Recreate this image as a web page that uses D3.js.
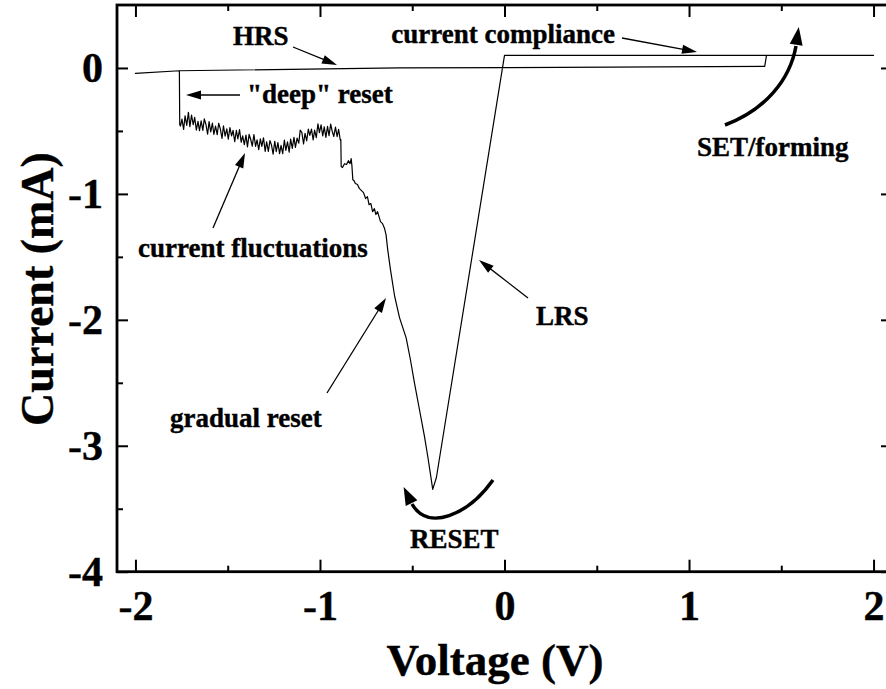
<!DOCTYPE html>
<html>
<head>
<meta charset="utf-8">
<script src="https://cdn.jsdelivr.net/npm/d3@7"></script>
<style>
  body { margin: 0; background: #fff; }
  svg { display: block; }
  text { font-family: "Liberation Serif", "Times New Roman", Times, serif; font-weight: bold; fill: #000; stroke: #000; stroke-width: 0.4px; }
</style>
</head>
<body>
<svg id="chart" width="886" height="689"></svg>
<script>
// ---- I-V sweep data (voltage in V, current in mA), in sweep order ----

// forming: 0 V -> +2 V, jump to the compliance level
const formingV = [0.000, 1.410, 1.420, 2.000];
const formingI = [0.002, 0.012, 0.100, 0.100];

// back from +2 V to 0 V at the compliance level
const returnV = [2.000, 0.000];
const returnI = [0.100, 0.100];

// low resistance state: 0 V down to the reset point
const lrsV = [0.000, -0.369];
const lrsI = [0.100, -3.252];

// reset branch: from the current minimum up to the first current drop
const resetV = [
  -0.389, -0.397, -0.416, -0.434, -0.461, -0.488, -0.510, -0.533, -0.569, -0.596,
  -0.618, -0.633, -0.642, -0.650, -0.661, -0.672, -0.680, -0.688, -0.697, -0.705,
  -0.715, -0.724, -0.734, -0.743, -0.753, -0.764, -0.775, -0.786, -0.797, -0.808,
  -0.816, -0.822, -0.827, -0.831, -0.837, -0.846, -0.856, -0.867, -0.878, -0.885,
  -0.887
];
const resetI = [
  -3.346, -3.267, -3.083, -2.924, -2.712, -2.500, -2.315, -2.143, -1.982, -1.807,
  -1.601, -1.442, -1.323, -1.275, -1.236, -1.220, -1.180, -1.141, -1.164, -1.117,
  -1.141, -1.077, -1.085, -1.021, -1.037, -0.990, -0.974, -0.958, -0.926, -0.918,
  -0.894, -0.887, -0.775, -0.720, -0.760, -0.736, -0.767, -0.760, -0.791, -0.783,
  -0.569
];

// fluctuating plateau between -0.89 V and the "deep" reset at -1.76 V
const fluctV = [
  -0.890, -0.899, -0.907, -0.916, -0.925, -0.933, -0.942, -0.951, -0.959, -0.968,
  -0.977, -0.985, -0.994, -1.003, -1.011, -1.020, -1.029, -1.037, -1.046, -1.055,
  -1.063, -1.072, -1.081, -1.089, -1.098, -1.107, -1.115, -1.124, -1.133, -1.141,
  -1.150, -1.159, -1.167, -1.176, -1.185, -1.193, -1.202, -1.211, -1.219, -1.228,
  -1.237, -1.245, -1.254, -1.263, -1.271, -1.280, -1.289, -1.297, -1.306, -1.315,
  -1.323, -1.332, -1.341, -1.349, -1.358, -1.367, -1.375, -1.384, -1.393, -1.401,
  -1.410, -1.419, -1.427, -1.436, -1.445, -1.453, -1.462, -1.471, -1.479, -1.488,
  -1.497, -1.505, -1.514, -1.523, -1.531, -1.540, -1.549, -1.557, -1.566, -1.575,
  -1.583, -1.592, -1.601, -1.609, -1.618, -1.627, -1.635, -1.644, -1.653, -1.661,
  -1.670, -1.679, -1.687, -1.696, -1.705, -1.713, -1.722, -1.731, -1.739, -1.748,
  -1.756
];
const fluctI = [
  -0.572, -0.487, -0.546, -0.469, -0.544, -0.507, -0.446, -0.538, -0.464, -0.551,
  -0.468, -0.540, -0.452, -0.514, -0.444, -0.553, -0.494, -0.571, -0.486, -0.536,
  -0.485, -0.578, -0.519, -0.604, -0.513, -0.494, -0.597, -0.557, -0.631, -0.551,
  -0.638, -0.565, -0.668, -0.586, -0.655, -0.572, -0.681, -0.614, -0.681, -0.593,
  -0.664, -0.582, -0.684, -0.611, -0.577, -0.662, -0.586, -0.662, -0.554, -0.622,
  -0.563, -0.648, -0.571, -0.622, -0.529, -0.620, -0.570, -0.527, -0.626, -0.533,
  -0.608, -0.539, -0.590, -0.489, -0.564, -0.495, -0.586, -0.495, -0.540, -0.473,
  -0.566, -0.483, -0.542, -0.459, -0.560, -0.484, -0.439, -0.530, -0.461, -0.528,
  -0.438, -0.508, -0.426, -0.526, -0.449, -0.404, -0.495, -0.420, -0.498, -0.424,
  -0.493, -0.392, -0.451, -0.374, -0.466, -0.353, -0.457, -0.380, -0.488, -0.406,
  -0.461
];

// "deep" reset and the rest of the sweep to -2 V
const deepV = [-1.760, -1.762, -2.000];
const deepI = [-0.450, -0.022, -0.043];

// high resistance state: -2 V back to 0 V
const hrsV = [-2.000, -1.762, -0.570, 0.000];
const hrsI = [-0.043, -0.022, 0.000, 0.002];

// axis ticks
const xTicks = [-2, -1, 0, 1, 2];
const xMinorTicks = [-1.5, -0.5, 0.5, 1.5];
const yTicks = [-4, -3, -2, -1, 0];
const yMinorTicks = [-3.5, -2.5, -1.5, -0.5];

// annotation texts
const labelHRS = "HRS";
const labelCompliance = "current compliance";
const labelDeep = "\"deep\" reset";
const labelFluct = "current fluctuations";
const labelGradual = "gradual reset";
const labelLRS = "LRS";
const labelReset = "RESET";
const labelSet = "SET/forming";

// ---- drawing ----
const svg = d3.select("#chart");

const x = d3.scaleLinear().domain([-2.1, 2.1]).range([117, 892]);
const y = d3.scaleLinear().domain([-4, 0.5]).range([571.7, 5]);

const fmt = d => String(d);

function styleAxis(g, fontSize) {
  g.select(".domain").remove();
  g.selectAll(".tick line").attr("stroke", "#000").attr("stroke-width", 2);
  g.selectAll(".tick text")
    .style("font-family", "\"Liberation Serif\", \"Times New Roman\", serif")
    .style("font-weight", "bold")
    .style("font-size", fontSize + "px")
    .attr("fill", "#000");
}

// bottom axis
svg.append("g").attr("transform", `translate(0,${y(-4)})`)
  .call(d3.axisBottom(x).tickValues(xTicks).tickFormat(fmt).tickSizeInner(-12).tickSizeOuter(0).tickPadding(18))
  .call(g => styleAxis(g, 42));
svg.append("g").attr("transform", `translate(0,${y(-4)})`)
  .call(d3.axisBottom(x).tickValues(xMinorTicks).tickFormat("").tickSizeInner(-6).tickSizeOuter(0))
  .call(g => styleAxis(g, 42));

// top axis
svg.append("g").attr("transform", `translate(0,${y(0.5)})`)
  .call(d3.axisTop(x).tickValues(xTicks).tickFormat("").tickSizeInner(-12).tickSizeOuter(0))
  .call(g => styleAxis(g, 42));
svg.append("g").attr("transform", `translate(0,${y(0.5)})`)
  .call(d3.axisTop(x).tickValues(xMinorTicks).tickFormat("").tickSizeInner(-6).tickSizeOuter(0))
  .call(g => styleAxis(g, 42));

// left axis
svg.append("g").attr("transform", `translate(${x(-2.1)},0)`)
  .call(d3.axisLeft(y).tickValues(yTicks).tickFormat(fmt).tickSizeInner(-11).tickSizeOuter(0).tickPadding(14))
  .call(g => styleAxis(g, 42));
svg.append("g").attr("transform", `translate(${x(-2.1)},0)`)
  .call(d3.axisLeft(y).tickValues(yMinorTicks).tickFormat("").tickSizeInner(-6).tickSizeOuter(0))
  .call(g => styleAxis(g, 42));

// right axis
svg.append("g").attr("transform", `translate(${x(2.1)},0)`)
  .call(d3.axisRight(y).tickValues(yTicks).tickFormat("").tickSizeInner(-11).tickSizeOuter(0))
  .call(g => styleAxis(g, 42));
svg.append("g").attr("transform", `translate(${x(2.1)},0)`)
  .call(d3.axisRight(y).tickValues(yMinorTicks).tickFormat("").tickSizeInner(-6).tickSizeOuter(0))
  .call(g => styleAxis(g, 42));

// frame
svg.append("rect")
  .attr("x", x(-2.1)).attr("y", y(0.5))
  .attr("width", x(2.1) - x(-2.1)).attr("height", y(-4) - y(0.5))
  .attr("fill", "none").attr("stroke", "#000").attr("stroke-width", 2.8);

// the I-V trace
const zip = (vs, is) => vs.map((v, k) => [v, is[k]]);
const trace = [].concat(
  zip(formingV, formingI),
  zip(returnV, returnI),
  zip(lrsV, lrsI),
  zip(resetV, resetI),
  zip(fluctV, fluctI),
  zip(deepV, deepI),
  zip(hrsV, hrsI)
);
svg.append("path")
  .datum(trace)
  .attr("fill", "none")
  .attr("stroke", "#000")
  .attr("stroke-width", 1.2)
  .attr("stroke-linejoin", "round")
  .attr("d", d3.line().x(d => x(d[0])).y(d => y(d[1])));

// axis titles
svg.append("text")
  .attr("x", 495).attr("y", 675)
  .attr("text-anchor", "middle")
  .style("font-size", "45px")
  .text("Voltage (V)");
svg.append("text")
  .attr("transform", "translate(53,289) rotate(-90)")
  .attr("text-anchor", "middle")
  .style("font-size", "46px")
  .text("Current (mA)");

// annotations
const ann = svg.append("g").style("font-size", "27px");
function label(txt, px, py, anchor) {
  ann.append("text").attr("x", px).attr("y", py)
    .attr("text-anchor", anchor || "start").text(txt);
}
label(labelHRS, 233, 45);
label(labelCompliance, 615, 43, "end");
label(labelDeep, 247, 103);
label(labelFluct, 138, 257);
label(labelGradual, 170, 427);
label(labelLRS, 536, 325);
label(labelReset, 410, 548);
label(labelSet, 697, 156);

// arrowhead helper: filled triangle with its tip at (tx,ty), pointing away from (fx,fy)
function head(fx, fy, tx, ty, len, half) {
  const dx = tx - fx, dy = ty - fy, L = Math.hypot(dx, dy);
  const ux = dx / L, uy = dy / L;
  const bx = tx - ux * len, by = ty - uy * len;
  const pts = [[tx, ty], [bx - uy * half, by + ux * half], [bx + uy * half, by - ux * half]];
  svg.append("path").attr("d", "M" + pts.join("L") + "Z").attr("fill", "#000");
}
function arrow(fx, fy, tx, ty) {
  const dx = tx - fx, dy = ty - fy, L = Math.hypot(dx, dy);
  svg.append("line")
    .attr("x1", fx).attr("y1", fy)
    .attr("x2", tx - dx / L * 10).attr("y2", ty - dy / L * 10)
    .attr("stroke", "#000").attr("stroke-width", 1.3);
  head(fx, fy, tx, ty, 15, 4.5);
}
arrow(293, 47, 337, 65);     // HRS
arrow(622, 38, 697, 52);     // current compliance
arrow(240, 95, 186, 95);     // "deep" reset
arrow(213, 228, 245, 153);   // current fluctuations
arrow(327, 393, 386, 298);   // gradual reset
arrow(528, 298, 479, 260);   // LRS

// curved arrows for RESET and SET/forming
svg.append("path")
  .attr("d", "M493,480 C468,515 428,532 412,504")
  .attr("fill", "none").attr("stroke", "#000").attr("stroke-width", 3.5);
head(412, 504, 403.6, 487, 18, 6.5);

svg.append("path")
  .attr("d", "M725,125 C765,110 790,80 796,46")
  .attr("fill", "none").attr("stroke", "#000").attr("stroke-width", 3.5);
head(796, 46, 798.8, 27, 18, 6.5);
</script>
</body>
</html>
